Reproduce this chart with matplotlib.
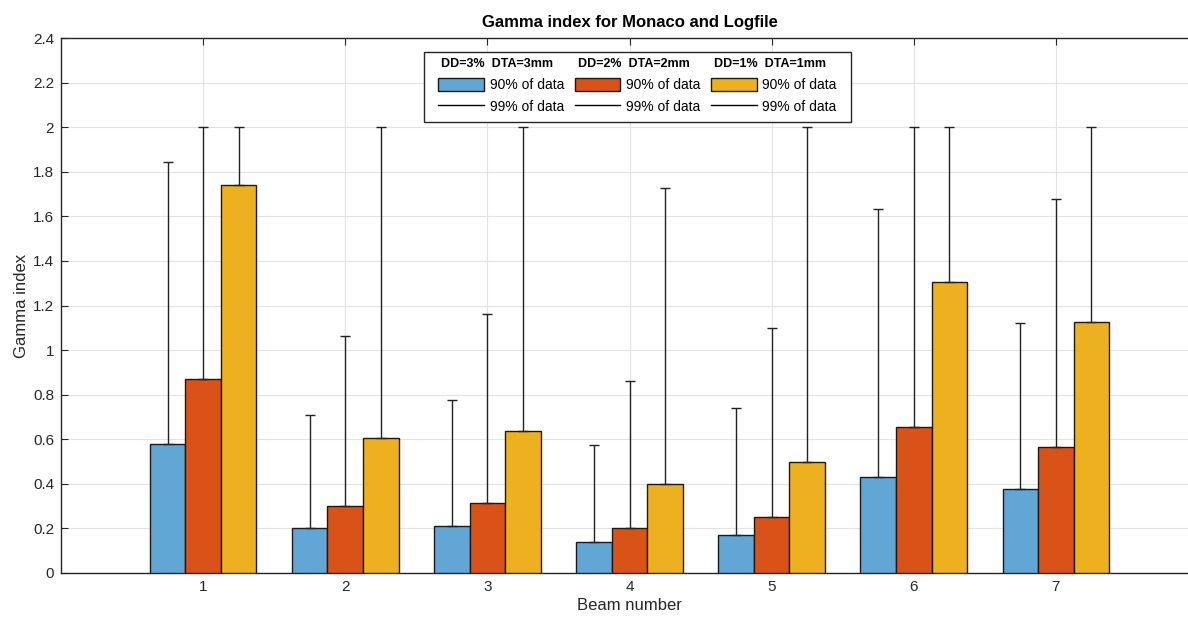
import numpy as np
import matplotlib
matplotlib.use('Agg')
import matplotlib.pyplot as plt
from matplotlib.patches import Patch, Rectangle
from matplotlib.lines import Line2D

plt.rcParams['font.family'] = ['Liberation Sans', 'DejaVu Sans']

beams = [1, 2, 3, 4, 5, 6, 7]
# 90% of data (bar heights)
g90_3mm = [0.58, 0.20, 0.21, 0.14, 0.17, 0.43, 0.375]
g90_2mm = [0.87, 0.30, 0.315, 0.20, 0.25, 0.655, 0.565]
g90_1mm = [1.74, 0.605, 0.635, 0.40, 0.50, 1.305, 1.125]
# 99% of data (error bar tops)
g99_3mm = [1.845, 0.71, 0.775, 0.575, 0.74, 1.635, 1.12]
g99_2mm = [2.0, 1.063, 1.162, 0.862, 1.10, 2.0, 1.68]
g99_1mm = [2.0, 2.0, 2.0, 1.727, 2.0, 2.0, 2.0]

headers = ['DD=3%  DTA=3mm', 'DD=2%  DTA=2mm', 'DD=1%  DTA=1mm']
colors = ['#62a6d6', '#d95319', '#edb120']

fig = plt.figure(figsize=(11.88, 6.21), dpi=100)
W, H = 1188, 621
ax = fig.add_axes([61 / W, 1 - 573 / H, 1137 / W, 535 / H])

x = np.array(beams, dtype=float)
w = 0.25
series = [(g90_3mm, g99_3mm), (g90_2mm, g99_2mm), (g90_1mm, g99_1mm)]
for k, (v90, v99) in enumerate(series):
    xs = x + (k - 1) * w
    v90 = np.array(v90)
    v99 = np.array(v99)
    ax.bar(xs, v90, width=w, color=colors[k], edgecolor='#1a1a1a', linewidth=1, zorder=3)
    ax.errorbar(xs, v90, yerr=[np.zeros_like(v90), v99 - v90], fmt='none',
                ecolor='#222222', elinewidth=1, capsize=3.5, capthick=1, zorder=4)

ax.set_xlim(0, 8)
ax.set_ylim(0, 2.4)
ax.set_xticks(beams)
ax.set_yticks(np.arange(0, 2.41, 0.2))
ax.set_yticklabels(['0', '0.2', '0.4', '0.6', '0.8', '1', '1.2', '1.4', '1.6', '1.8', '2', '2.2', '2.4'])
ax.grid(True, color='#e3e3e3', linewidth=0.8, zorder=0)
ax.set_axisbelow(True)
ax.tick_params(direction='in', top=True, right=True, length=5, labelsize=11,
               colors='#262626', pad=5)
for s in ax.spines.values():
    s.set_color('#262626')
    s.set_linewidth(1)

ax.set_title('Gamma index for Monaco and Logfile', fontsize=12, fontweight='bold', pad=8)
ax.set_ylabel('Gamma index', fontsize=12, color='#262626', labelpad=3)
ax.set_xlabel('Beam number', fontsize=12, color='#262626', labelpad=3)

handles = []
labels = []
for k in range(3):
    handles += [Line2D([], [], color='none'),
                Patch(facecolor=colors[k], edgecolor='#1a1a1a', linewidth=1),
                Line2D([], [], color='black', linewidth=1)]
    labels += [' ', '90% of data', '99% of data']

leg = ax.legend(handles, labels, ncol=3, loc='upper left', bbox_to_anchor=(0.322, 0.986),
                fontsize=10, handlelength=3.3, handleheight=1.1, handletextpad=0.4,
                columnspacing=0.76, labelspacing=0.5, borderpad=0.3, frameon=False)
leg.set_zorder(6)

# bold column headers placed over the blank legend rows, plus the legend box
fig.canvas.draw()
renderer = fig.canvas.get_renderer()
texts = leg.get_texts()
for k in range(3):
    hb = leg.legend_handles[3 * k + 1].get_window_extent(renderer)
    tb = texts[3 * k].get_window_extent(renderer)
    fig.text((hb.x0 + 3) / W, (tb.y0 + tb.y1) / 2 / H,
             headers[k], fontsize=9, fontweight='bold', va='center', ha='left', zorder=10)
lb = leg.get_window_extent(renderer)
ax.add_patch(Rectangle(((lb.x0 - 10) / W, (lb.y0 - 4) / H),
                       (lb.width + 20) / W, (lb.height + 4) / H,
                       transform=fig.transFigure, facecolor='white',
                       edgecolor='#262626', linewidth=1, zorder=5))

fig.savefig('out.png', dpi=100)
